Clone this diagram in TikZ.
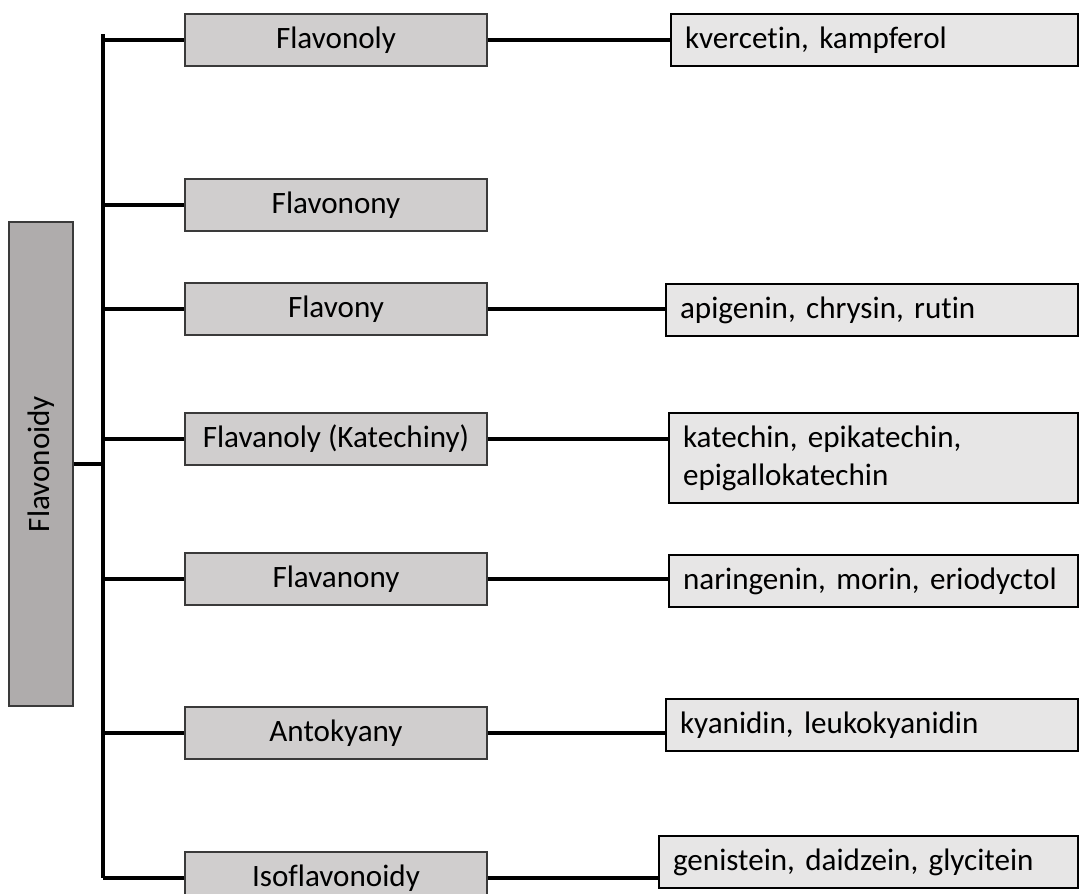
\documentclass[tikz,border=0pt]{standalone}
\usepackage{fontspec}
\setmainfont{Carlito}[Ligatures=NoCommon]
\usepackage{tikz}
\definecolor{RootGray}{HTML}{AFACAC}
\definecolor{GroupGray}{HTML}{D0CECE}
\definecolor{LeafGray}{HTML}{E7E6E6}
\definecolor{EdgeGray}{HTML}{3A3A3A}
\newcommand{\boxfont}{\fontsize{17.7}{21.5}\selectfont\frenchspacing}

\begin{document}
\begin{tikzpicture}[
  x=0.02cm, y=-0.02cm,
  root/.style={rectangle, draw=EdgeGray, fill=RootGray, line width=0.8pt,
               minimum width=9.68cm, minimum height=1.28cm, rotate=90,
               inner sep=0pt, font=\boxfont},
  group/.style={rectangle, draw=EdgeGray, fill=GroupGray, line width=0.8pt,
                minimum width=6.04cm, minimum height=1.04cm, inner sep=0pt,
                font=\boxfont},
  leaf/.style={rectangle, draw=black, fill=LeafGray, line width=1.2pt,
               text width=#1, align=left, minimum height=1.04cm,
               inner xsep=0.28cm, inner ysep=0pt, anchor=west, font=\boxfont},
  link/.style={line width=2.2pt, color=black},
]
  \useasboundingbox (0,0) rectangle (1079,893);

  % Root
  \node[root] (flavonoidy) at (41,464) {Flavonoidy};
  \coordinate (trunk) at (103,34);

  % Groups
  \node[group] (flavonoly) at (336,40) {Flavonoly};
  \node[group] (flavonony) at (336,205) {Flavonony};
  \node[group] (flavony) at (336,309) {Flavony};
  \node[group] (flavanoly) at (336,439) {Flavanoly (Katechiny)};
  \node[group] (flavanony) at (336,579) {Flavanony};
  \node[group] (antokyany) at (336,733) {Antokyany};
  \node[group] (isoflavonoidy) at (336,878) {Isoflavonoidy};

  % Examples
  \node[leaf=7.58cm] (kvercetin) at (670,40) {kvercetin, kampferol};
  \node[leaf=7.68cm] (apigenin) at (665,310) {apigenin, chrysin, rutin};
  \node[leaf=7.62cm, minimum height=1.8cm] (katechin) at (668,458)
    {katechin, epikatechin,\\epigallokatechin};
  \node[leaf=7.62cm] (naringenin) at (668,581) {naringenin, morin, eriodyctol};
  \node[leaf=7.68cm] (kyanidin) at (665,725) {kyanidin, leukokyanidin};
  \node[leaf=7.82cm] (genistein) at (658,862) {genistein, daidzein, glycitein};

  % Trunk and branches
  \draw[link] (trunk) -- (trunk |- isoflavonoidy.west);
  \draw[link] (flavonoidy.south) -- (flavonoidy.south -| trunk);
  \foreach \grp in {flavonoly, flavonony, flavony, flavanoly, flavanony, antokyany, isoflavonoidy}
    \draw[link] (trunk |- \grp.west) -- (\grp.west);

  % Groups to examples
  \draw[link] (flavonoly.east) -- (flavonoly.east -| kvercetin.west);
  \draw[link] (flavony.east) -- (flavony.east -| apigenin.west);
  \draw[link] (flavanoly.east) -- (flavanoly.east -| katechin.west);
  \draw[link] (flavanony.east) -- (flavanony.east -| naringenin.west);
  \draw[link] (antokyany.east) -- (antokyany.east -| kyanidin.west);
  \draw[link] (isoflavonoidy.east) -- (isoflavonoidy.east -| genistein.west);
\end{tikzpicture}
\end{document}
